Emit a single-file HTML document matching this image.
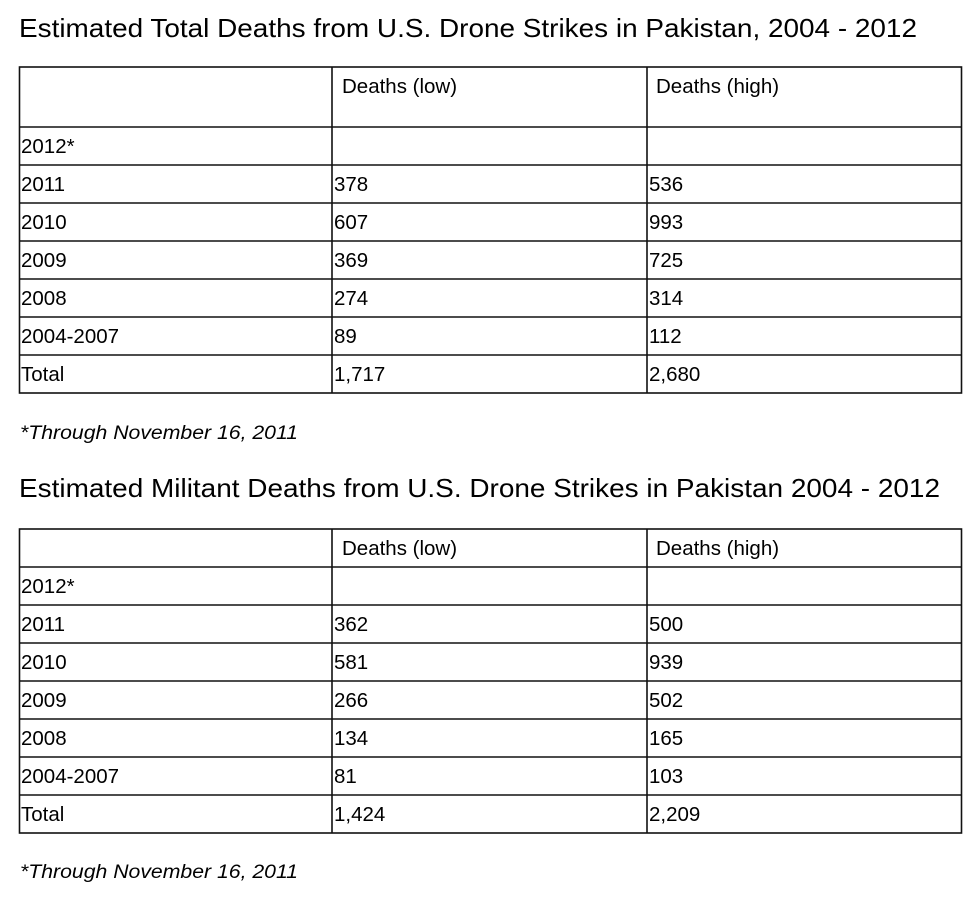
<!DOCTYPE html>
<html><head><meta charset="utf-8"><style>body{margin:0;background:#fff}svg{display:block}</style></head>
<body>
<svg width="980" height="901" xmlns="http://www.w3.org/2000/svg" font-family="Liberation Sans, Arial, sans-serif" fill="#000">
<rect width="980" height="901" fill="#fff"/>
<text x="19" y="37" font-size="26" textLength="898" lengthAdjust="spacingAndGlyphs">Estimated Total Deaths from U.S. Drone Strikes in Pakistan, 2004 - 2012</text>
<g stroke="#111" stroke-width="1.6" fill="none">
<rect x="19.5" y="67" width="942" height="326"/>
<line x1="332" y1="67" x2="332" y2="393"/><line x1="647" y1="67" x2="647" y2="393"/>
<line x1="19.5" y1="127" x2="961.5" y2="127"/><line x1="19.5" y1="165" x2="961.5" y2="165"/>
<line x1="19.5" y1="203" x2="961.5" y2="203"/><line x1="19.5" y1="241" x2="961.5" y2="241"/>
<line x1="19.5" y1="279" x2="961.5" y2="279"/><line x1="19.5" y1="317" x2="961.5" y2="317"/>
<line x1="19.5" y1="355" x2="961.5" y2="355"/>
</g>
<g font-size="20.5">
<text x="342" y="93">Deaths (low)</text><text x="656" y="93">Deaths (high)</text>
<text x="21" y="153">2012*</text>
<text x="21" y="191">2011</text><text x="334" y="191">378</text><text x="649" y="191">536</text>
<text x="21" y="229">2010</text><text x="334" y="229">607</text><text x="649" y="229">993</text>
<text x="21" y="267">2009</text><text x="334" y="267">369</text><text x="649" y="267">725</text>
<text x="21" y="305">2008</text><text x="334" y="305">274</text><text x="649" y="305">314</text>
<text x="21" y="343">2004-2007</text><text x="334" y="343">89</text><text x="649" y="343">112</text>
<text x="21" y="381">Total</text><text x="334" y="381">1,717</text><text x="649" y="381">2,680</text>
<text x="20" y="439" font-size="19" font-style="italic" textLength="278" lengthAdjust="spacingAndGlyphs">*Through November 16, 2011</text>
</g>
<text x="19" y="497" font-size="26" textLength="921" lengthAdjust="spacingAndGlyphs">Estimated Militant Deaths from U.S. Drone Strikes in Pakistan 2004 - 2012</text>
<g stroke="#111" stroke-width="1.6" fill="none">
<rect x="19.5" y="529" width="942" height="304"/>
<line x1="332" y1="529" x2="332" y2="833"/><line x1="647" y1="529" x2="647" y2="833"/>
<line x1="19.5" y1="567" x2="961.5" y2="567"/><line x1="19.5" y1="605" x2="961.5" y2="605"/>
<line x1="19.5" y1="643" x2="961.5" y2="643"/><line x1="19.5" y1="681" x2="961.5" y2="681"/>
<line x1="19.5" y1="719" x2="961.5" y2="719"/><line x1="19.5" y1="757" x2="961.5" y2="757"/>
<line x1="19.5" y1="795" x2="961.5" y2="795"/>
</g>
<g font-size="20.5">
<text x="342" y="555">Deaths (low)</text><text x="656" y="555">Deaths (high)</text>
<text x="21" y="593">2012*</text>
<text x="21" y="631">2011</text><text x="334" y="631">362</text><text x="649" y="631">500</text>
<text x="21" y="669">2010</text><text x="334" y="669">581</text><text x="649" y="669">939</text>
<text x="21" y="707">2009</text><text x="334" y="707">266</text><text x="649" y="707">502</text>
<text x="21" y="745">2008</text><text x="334" y="745">134</text><text x="649" y="745">165</text>
<text x="21" y="783">2004-2007</text><text x="334" y="783">81</text><text x="649" y="783">103</text>
<text x="21" y="821">Total</text><text x="334" y="821">1,424</text><text x="649" y="821">2,209</text>
<text x="20" y="878" font-size="19" font-style="italic" textLength="278" lengthAdjust="spacingAndGlyphs">*Through November 16, 2011</text>
</g>
</svg>
</body></html>
